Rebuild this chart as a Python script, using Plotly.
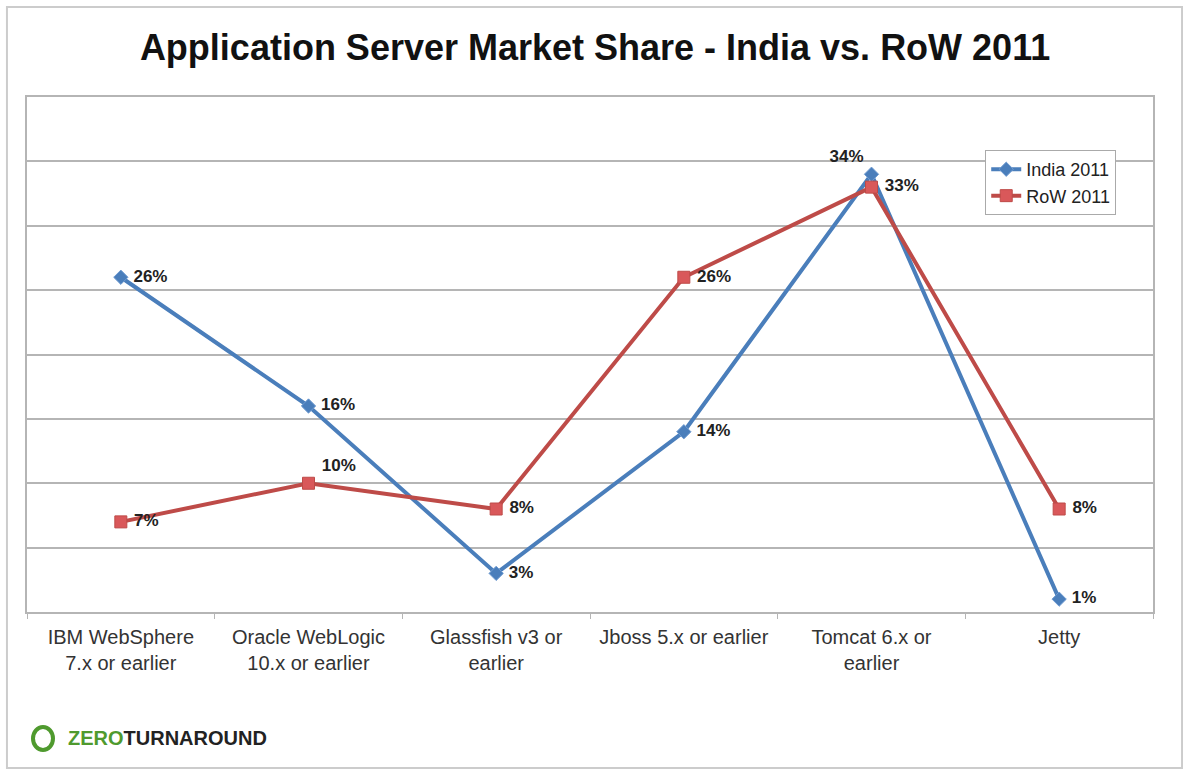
import plotly.graph_objects as go

categories = ["IBM WebSphere<br>7.x or earlier", "Oracle WebLogic<br>10.x or earlier",
              "Glassfish v3 or<br>earlier", "Jboss 5.x or earlier",
              "Tomcat 6.x or<br>earlier", "Jetty"]
india_2011 = [26, 16, 3, 14, 34, 1]
row_2011 = [7, 10, 8, 26, 33, 8]

india_pos = ["middle right", "middle right", "middle right", "middle right", "top left", "middle right"]
row_pos = ["middle right", "top right", "middle right", "middle right", "middle right", "middle right"]

NB = "\u00a0"
lbl_font = dict(family="Liberation Sans, Arial, sans-serif", size=17, color="#222222")

def lab(vals, pos):
    out = []
    for v, p in zip(vals, pos):
        if p.endswith("right"):
            out.append(f"{NB}<b>{v}%</b>")
        else:
            out.append(f"<b>{v}%</b>")
    return out

fig = go.Figure()
fig.add_trace(go.Scatter(
    x=categories, y=india_2011, name="India 2011", mode="lines+markers+text",
    line=dict(color="#4A7EBB", width=4),
    marker=dict(symbol="diamond", size=11, color="#4A7EBB", line=dict(color="#6f9bd1", width=1)),
    text=lab(india_2011, india_pos), textposition=india_pos, textfont=lbl_font,
))
fig.add_trace(go.Scatter(
    x=categories, y=row_2011, name="RoW 2011", mode="lines+markers+text",
    line=dict(color="#BE4B48", width=4),
    marker=dict(symbol="square", size=12, color="#D9585A", line=dict(color="#BE4B48", width=1)),
    text=lab(row_2011, row_pos), textposition=row_pos, textfont=lbl_font,
))

fig.update_layout(
    width=1183, height=769,
    paper_bgcolor="white", plot_bgcolor="white",
    margin=dict(l=27, r=30, t=97, b=157),
    title=dict(text="<b>Application Server Market Share - India vs. RoW 2011</b>",
               x=0.503, xanchor="center", y=0.939, yanchor="middle",
               font=dict(family="Liberation Sans, Arial, sans-serif", size=36, color="#111111")),
    showlegend=True,
    legend=dict(x=0.851, xanchor="left", y=0.897, yanchor="top",
                bgcolor="white", bordercolor="#aaaaaa", borderwidth=1,
                font=dict(family="Liberation Sans, Arial, sans-serif", size=18, color="#222222"),
                itemwidth=30, tracegroupgap=0),
    xaxis=dict(type="category", range=[-0.5, 5.5], showgrid=False,
               showline=True, linecolor="#b5b5b5", linewidth=2, mirror=True,
               ticks="outside", tickson="boundaries", ticklen=5, tickcolor="#b5b5b5",
               ticklabelstandoff=6,
               tickfont=dict(family="Liberation Sans, Arial, sans-serif", size=20, color="#333333"),
               fixedrange=True),
    yaxis=dict(range=[0, 40], dtick=5, showticklabels=False, showgrid=True,
               gridcolor="#b5b5b5", gridwidth=2, zeroline=False,
               showline=True, linecolor="#b5b5b5", linewidth=2, mirror=True,
               fixedrange=True),
)

# outer frame
fig.add_shape(type="rect", xref="paper", yref="paper",
              x0=-0.0178, x1=1.0258, y0=-0.303, y1=1.1748,
              line=dict(color="#cccccc", width=2), layer="below")

# logo
fig.add_shape(type="circle", xref="paper", yref="paper",
              x0=(33 - 27) / 1126, x1=(53 - 27) / 1126,
              y0=(612 - 750) / 515, y1=(612 - 727) / 515,
              line=dict(color="#4f9a2e", width=4))
fig.add_annotation(xref="paper", yref="paper", x=(66 - 27) / 1126, y=(612 - 738) / 515,
                   xanchor="left", yanchor="middle", showarrow=False,
                   text="<b><span style='color:#4f9a2e'>ZERO</span><span style='color:#222222'>TURNAROUND</span></b>",
                   font=dict(family="Liberation Sans Narrow, Arial Narrow, Liberation Sans, sans-serif",
                             size=20, color="#222222"))

fig.write_html("out.html")
